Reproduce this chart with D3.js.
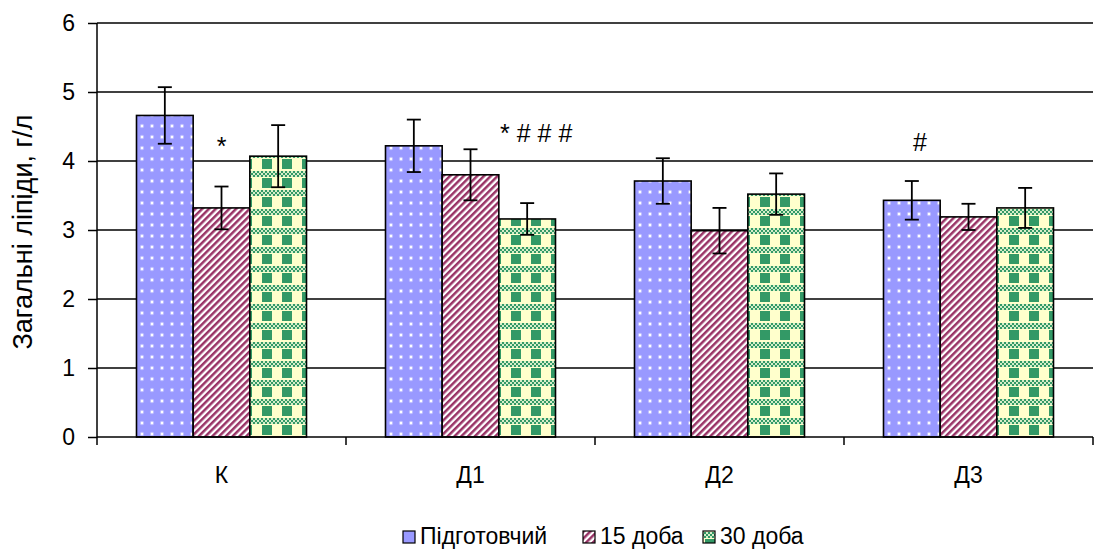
<!DOCTYPE html>
<html>
<head>
<meta charset="utf-8">
<script src="https://cdn.jsdelivr.net/npm/d3@7"></script>
<style>
  html, body { margin: 0; padding: 0; background: #fff; }
  svg { display: block; font-family: Arial, "Liberation Sans", sans-serif; }
</style>
</head>
<body>
<svg id="chart" width="1094" height="551"></svg>
<script>
// Загальні ліпіди (г/л) по групах і періодах
const categories = ["К", "Д1", "Д2", "Д3"];
const seriesNames = ["Підготовчий", "15 доба", "30 доба"];
const prepValues = [4.66, 4.22, 3.71, 3.43];
const day15Values = [3.32, 3.80, 2.99, 3.19];
const day30Values = [4.07, 3.16, 3.52, 3.32];
const prepErrors = [0.41, 0.38, 0.33, 0.28];
const day15Errors = [0.31, 0.37, 0.33, 0.19];
const day30Errors = [0.45, 0.23, 0.30, 0.29];
const yTicks = [0, 1, 2, 3, 4, 5, 6];
// Позначки достовірності над групами
const markLabels = ["*", "* # # #", "", "#"];
const markAnchor = [1, 2, 1, 0]; // над яким стовпчиком розміщено позначку
const markHeights = [4.08, 4.28, 0, 4.14];

const series = [
  { name: seriesNames[0], values: prepValues, errors: prepErrors, fill: "url(#pDots)" },
  { name: seriesNames[1], values: day15Values, errors: day15Errors, fill: "url(#pStripes)" },
  { name: seriesNames[2], values: day30Values, errors: day30Errors, fill: "url(#pCheck)" }
];

const svg = d3.select("#chart");
const defs = svg.append("defs");

// Блакитний фон з білими крапками
const dots = defs.append("pattern").attr("id", "pDots")
  .attr("patternUnits", "userSpaceOnUse").attr("width", 10).attr("height", 11);
dots.append("rect").attr("width", 10).attr("height", 11).attr("fill", "#9999FF");
dots.append("circle").attr("cx", 5).attr("cy", 5).attr("r", 2.2).attr("fill", "#fff").attr("opacity", 0.35);
dots.append("circle").attr("cx", 5).attr("cy", 5).attr("r", 1.2).attr("fill", "#fff");

// Діагональні смуги
const stripes = defs.append("pattern").attr("id", "pStripes")
  .attr("patternUnits", "userSpaceOnUse").attr("width", 4.8).attr("height", 10)
  .attr("patternTransform", "rotate(45)");
stripes.append("rect").attr("width", 4.8).attr("height", 10).attr("fill", "#fff");
stripes.append("rect").attr("width", 2.5).attr("height", 10).attr("fill", "#993366");

// Зелено-жовта клітинка
const check = defs.append("pattern").attr("id", "pCheck")
  .attr("patternUnits", "userSpaceOnUse").attr("width", 20).attr("height", 19);
check.append("rect").attr("width", 20).attr("height", 19).attr("fill", "#FFFFCC");
for (let i = 0; i < 10; i++) {
  for (let j = 0; j < 3; j++) {
    check.append("rect").attr("x", i * 2).attr("y", j * 2).attr("width", 2).attr("height", 2)
      .attr("fill", (i + j) % 2 === 0 ? "#339966" : "#D6EEC8");
  }
}
check.append("rect").attr("x", 5).attr("y", 7).attr("width", 10).attr("height", 10).attr("fill", "#339966");

const plotLeft = 97, plotRight = 1093, plotTop = 23, plotBottom = 437;

const x0 = d3.scaleBand().domain(categories).range([plotLeft, plotRight]).padding(0);
const groupWidth = 170;
const x1 = d3.scaleBand().domain(seriesNames)
  .range([(x0.bandwidth() - groupWidth) / 2, (x0.bandwidth() + groupWidth) / 2]).padding(0);
const y = d3.scaleLinear().domain([0, 6]).range([plotBottom, plotTop]);

// Горизонтальні лінії сітки
svg.append("g").selectAll("line").data(yTicks.filter(t => t > 0)).join("line")
  .attr("x1", plotLeft).attr("x2", plotRight)
  .attr("y1", d => y(d)).attr("y2", d => y(d))
  .attr("stroke", "#000").attr("stroke-width", 1.5);

// Стовпчики
const groups = svg.append("g").selectAll("g").data(categories).join("g")
  .attr("transform", d => `translate(${x0(d)},0)`);

series.forEach(s => {
  groups.append("rect")
    .attr("x", x1(s.name))
    .attr("y", (d, i) => y(s.values[i]))
    .attr("width", x1.bandwidth())
    .attr("height", (d, i) => y(0) - y(s.values[i]))
    .attr("fill", s.fill)
    .attr("stroke", "#000").attr("stroke-width", 1.6);
});

// Похибки
series.forEach(s => {
  const cx = x1(s.name) + x1.bandwidth() / 2;
  const eg = groups.append("g").attr("stroke", "#000").attr("stroke-width", 1.8);
  eg.append("line").attr("x1", cx).attr("x2", cx)
    .attr("y1", (d, i) => y(s.values[i] + s.errors[i]))
    .attr("y2", (d, i) => y(s.values[i] - s.errors[i]));
  eg.append("line").attr("x1", cx - 7).attr("x2", cx + 7)
    .attr("y1", (d, i) => y(s.values[i] + s.errors[i]))
    .attr("y2", (d, i) => y(s.values[i] + s.errors[i]));
  eg.append("line").attr("x1", cx - 7).attr("x2", cx + 7)
    .attr("y1", (d, i) => y(s.values[i] - s.errors[i]))
    .attr("y2", (d, i) => y(s.values[i] - s.errors[i]));
});

// Позначки достовірності (невеликий зсув праворуч для багатосимвольних позначок)
const markDx = [0, 9, 0, 8];
groups.append("text")
  .attr("x", (d, i) => x1(seriesNames[markAnchor[i]]) + x1.bandwidth() / 2 + markDx[i])
  .attr("y", (d, i) => y(markHeights[i]))
  .attr("text-anchor", "middle")
  .attr("font-size", 25)
  .text((d, i) => markLabels[i]);

// Осі
const yAxis = d3.axisLeft(y).tickValues(yTicks).tickSize(9).tickPadding(13).tickFormat(d3.format("d"));
const yg = svg.append("g").attr("transform", `translate(${plotLeft},0)`).call(yAxis);
yg.select(".domain").attr("stroke", "#000").attr("stroke-width", 1.5).attr("d", `M0,${plotTop}V${plotBottom}`);
yg.selectAll(".tick line").attr("stroke", "#000").attr("stroke-width", 1.5);
yg.selectAll(".tick text").attr("font-size", 23).attr("fill", "#000")
  .attr("font-family", "Arial, 'Liberation Sans', sans-serif");

const xBounds = categories.map(c => x0(c)).concat([plotRight]);
const xg = svg.append("g");
xg.append("line").attr("x1", plotLeft).attr("x2", plotRight)
  .attr("y1", plotBottom).attr("y2", plotBottom)
  .attr("stroke", "#000").attr("stroke-width", 1.5);
xg.selectAll("line.tk").data(xBounds).join("line").attr("class", "tk")
  .attr("x1", d => d).attr("x2", d => d)
  .attr("y1", plotBottom).attr("y2", plotBottom + 8)
  .attr("stroke", "#000").attr("stroke-width", 1.5);
xg.selectAll("text").data(categories).join("text")
  .attr("x", d => x0(d) + x0.bandwidth() / 2)
  .attr("y", 483)
  .attr("text-anchor", "middle")
  .attr("font-size", 23)
  .text(d => d);

// Підпис осі Y
svg.append("text")
  .attr("transform", "translate(32,232) rotate(-90)")
  .attr("text-anchor", "middle")
  .attr("font-size", 27)
  .text("Загальні ліпіди, г/л");

// Легенда
const legendItems = [
  { name: seriesNames[0], fill: "#9999FF", x: 403 },
  { name: seriesNames[1], fill: "url(#pStripes)", x: 583 },
  { name: seriesNames[2], fill: "url(#pCheck)", x: 703 }
];
const lg = svg.append("g");
legendItems.forEach(it => {
  lg.append("rect").attr("x", it.x).attr("y", 531).attr("width", 12).attr("height", 12)
    .attr("fill", it.fill).attr("stroke", "#000").attr("stroke-width", 1.2);
  lg.append("text").attr("x", it.x + 17).attr("y", 544).attr("font-size", 23).text(it.name);
});
</script>
</body>
</html>
